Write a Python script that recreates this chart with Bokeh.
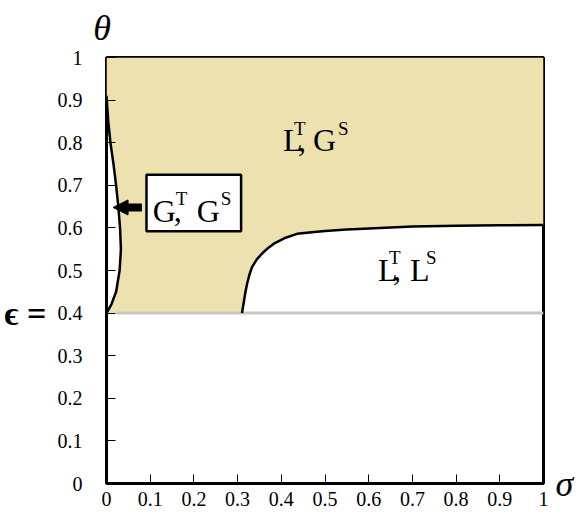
from bokeh.plotting import figure
from bokeh.models import Label, Arrow, NormalHead, FixedTicker, Range1d, LinearAxis
from bokeh.embed import file_html
from bokeh.resources import INLINE

# ---- data ----
tick_vals = [0, 0.1, 0.2, 0.3, 0.4, 0.5, 0.6, 0.7, 0.8, 0.9, 1]
tick_labels = ["0", "0.1", "0.2", "0.3", "0.4", "0.5", "0.6", "0.7", "0.8", "0.9", "1"]

epsilon = 0.4

# left boundary (G^T, G^S pocket), bottom to top
left_y = [0.40, 0.42, 0.45, 0.50, 0.55, 0.60, 0.65, 0.70, 0.75, 0.80, 0.85, 0.91]
left_x = [0.000, 0.011, 0.022, 0.030, 0.033, 0.031, 0.027, 0.022, 0.016, 0.009, 0.004, 0.000]

# right boundary (L^T, L^S region), left to right
right_x = [0.310, 0.314, 0.318, 0.322, 0.327, 0.333, 0.344, 0.356, 0.370, 0.383, 0.410, 0.436, 0.470, 0.500, 0.550, 0.589, 0.650, 0.700, 0.800, 0.900, 1.000]
right_y = [0.400, 0.425, 0.450, 0.470, 0.490, 0.508, 0.526, 0.540, 0.553, 0.563, 0.577, 0.586, 0.590, 0.593, 0.596, 0.598, 0.601, 0.603, 0.605, 0.606, 0.607]

TAN = "#EEE1B0"
SERIF = "Liberation Serif"

p = figure(width=587, height=515, x_range=Range1d(0, 1), y_range=Range1d(0, 1),
           output_backend="svg", toolbar_location=None,
           min_border_left=106, min_border_right=44, min_border_top=57, min_border_bottom=32)
p.grid.visible = False
p.outline_line_color = "black"
p.outline_line_width = 3
p.background_fill_color = "white"
p.border_fill_color = "white"

# tan region polygon
poly_x = [0.0, 0.0] + left_x[::-1] + right_x + [1.0]
poly_y = [1.0, left_y[-1]] + left_y[::-1] + right_y + [1.0]
p.patch(poly_x, poly_y, fill_color=TAN, line_color=None)

# epsilon line
p.line([0.022, 1.0], [epsilon, epsilon], line_color="#C8C8C8", line_width=3)

# boundaries
p.line(left_x, left_y, line_color="black", line_width=2.5)
p.line(right_x, right_y, line_color="black", line_width=2.5)

# box + arrow
p.quad(left=0.0915, right=0.308, bottom=0.592, top=0.725,
       fill_color="white", line_color="black", line_width=2.5)
p.add_layout(Arrow(end=NormalHead(size=15, fill_color="black", line_color="black", line_width=1),
                   x_start=0.081, y_start=0.648, x_end=0.015, y_end=0.648,
                   line_width=8, line_color="black"))

# axes
for ax in (p.xaxis[0], p.yaxis[0]):
    ax.ticker = FixedTicker(ticks=tick_vals)
    ax.major_label_overrides = {v: l for v, l in zip(tick_vals, tick_labels)}
    ax.axis_line_color = None
    ax.major_tick_in = 9
    ax.major_tick_out = 0
    ax.major_tick_line_color = "black"
    ax.major_tick_line_width = 1
    ax.minor_tick_line_color = None
    ax.major_label_text_font = SERIF
    ax.major_label_text_font_size = "20px"
    ax.major_label_text_color = "black"
p.xaxis.major_label_standoff = 8
p.yaxis.major_label_standoff = 24


def text_axis(where, tick, label, size, style, standoff):
    ax = LinearAxis(ticker=FixedTicker(ticks=[tick]),
                    major_label_overrides={tick: label})
    ax.axis_line_color = None
    ax.major_tick_line_color = None
    ax.minor_tick_line_color = None
    ax.major_tick_out = 0
    ax.major_tick_in = 0
    ax.major_label_text_font = SERIF
    ax.major_label_text_font_size = size
    ax.major_label_text_font_style = style
    ax.major_label_text_color = "black"
    ax.major_label_standoff = standoff
    p.add_layout(ax, where)


# epsilon marker, axis titles
text_axis("left", epsilon, "\u03f5 =", "34px", "bold", 8)
text_axis("above", 0, "\u03b8 ", "36px", "italic", 10)
text_axis("right", 0, "\u03c3", "36px", "italic", 12)


def phase_label(x, y, a, sa, b, sb, dx_sa, dx_comma, dx_b, dx_sb):
    big = "32px"
    small = "19px"
    parts = [(a, 0, 0, big), (sa, dx_sa, 12, small), (",", dx_comma, 0, big),
             (b, dx_b, 0, big), (sb, dx_sb, 12, small)]
    for t, dx, dy, fs in parts:
        p.add_layout(Label(x=x, y=y, x_offset=dx, y_offset=dy, text=t,
                           text_align="left", text_baseline="alphabetic",
                           text_font=SERIF, text_font_size=fs, text_color="black"))


phase_label(0.404, 0.806, "L", "T", "G", "S", 11, 15, 30, 55)
phase_label(0.621, 0.502, "L", "T", "L", "S", 11, 15, 32, 48)
phase_label(0.106, 0.640, "G", "T", "G", "S", 23, 21, 44, 68)

open("out.html", "w").write(file_html(p, INLINE))
